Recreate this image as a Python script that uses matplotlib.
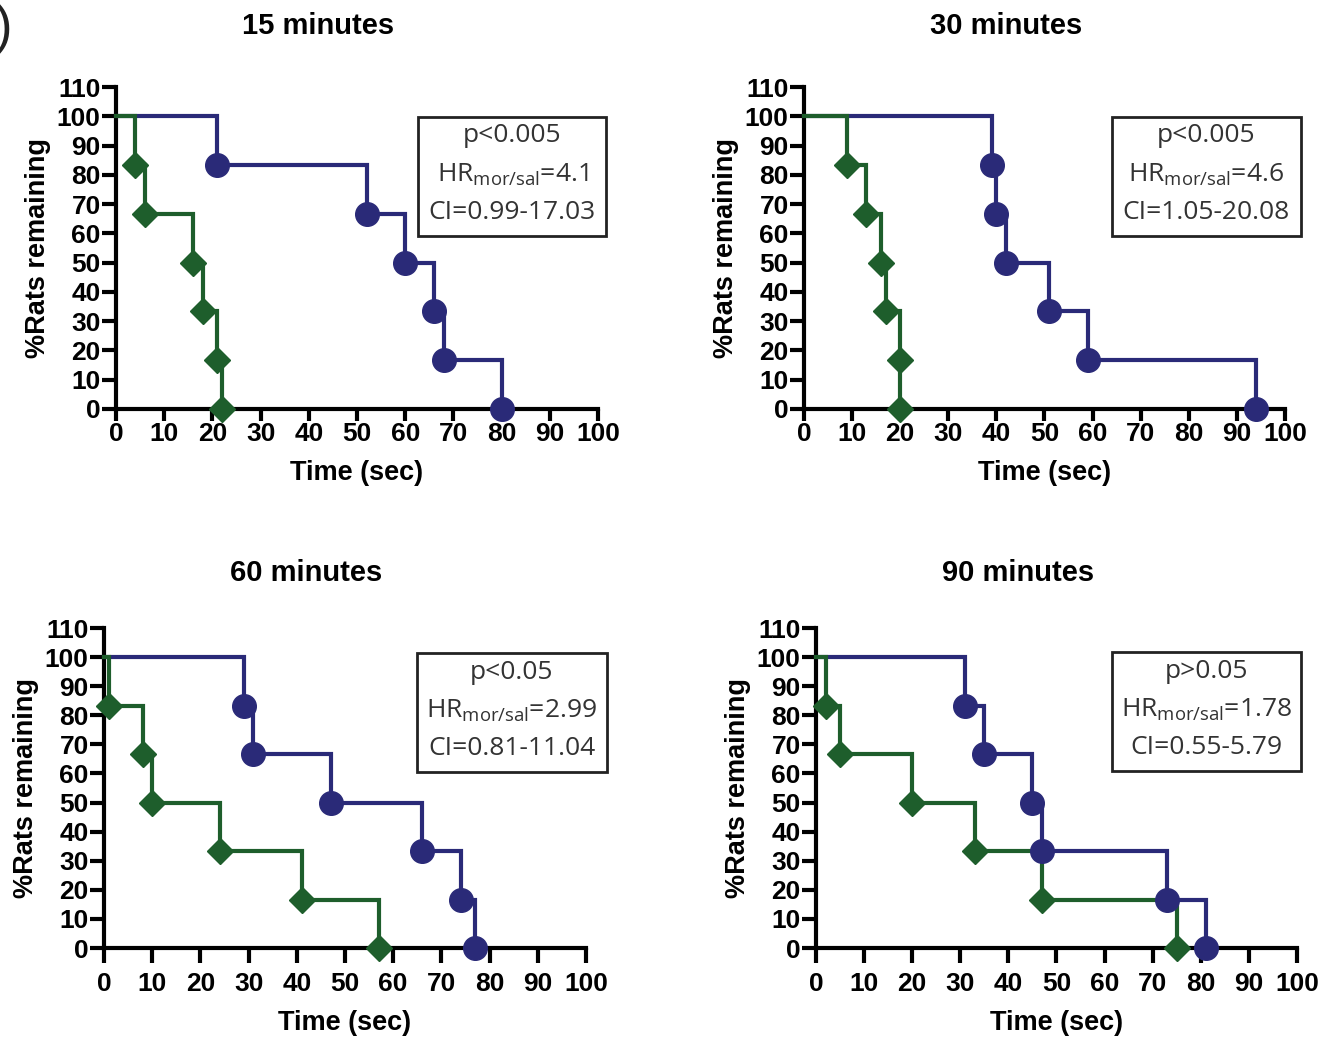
import matplotlib.pyplot as plt
from matplotlib.patches import Rectangle

plt.rcParams['font.family'] = ['Liberation Sans Narrow', 'Liberation Sans', 'DejaVu Sans']
plt.rcParams['mathtext.fontset'] = 'custom'
plt.rcParams['mathtext.rm'] = 'Open Sans'

blue = '#2a2a78'
green = '#1e5e2c'

# event times (sec); each event drops one of six rats (100 -> 83.3 -> ... -> 0)
titles = ['15 minutes', '30 minutes', '60 minutes', '90 minutes']
sal_times = [
    [21, 52, 60, 66, 68, 80],
    [39, 40, 42, 51, 59, 94],
    [29, 31, 47, 66, 74, 77],
    [31, 35, 45, 47, 73, 81],
]
mor_times = [
    [4, 6, 16, 18, 21, 22],
    [9, 13, 16, 17, 20, 20],
    [1, 8, 10, 24, 41, 57],
    [2, 5, 20, 33, 47, 75],
]
p_text = ['p<0.005', 'p<0.005', 'p<0.05', 'p>0.05']
hr_text = ['4.1', '4.6', '2.99', '1.78']
ci_text = ['0.99-17.03', '1.05-20.08', '0.81-11.04', '0.55-5.79']

# axes rectangles in figure fraction
positions = [
    [0.0878, 0.6056, 0.3649, 0.3105],
    [0.6086, 0.6056, 0.3641, 0.3105],
    [0.0787, 0.0858, 0.3649, 0.3086],
    [0.6177, 0.0858, 0.3641, 0.3086],
]
# stats box corners in data units: x0, x1, y0, y1
boxes = [
    [62.7, 101.7, 59.1, 99.8],
    [64.0, 103.3, 59.1, 99.8],
    [64.9, 104.3, 60.4, 101.3],
    [61.5, 100.9, 60.9, 101.6],
]
title_pads = [38, 38, 34, 34]
xtick_len = [8.5, 8.5, 11, 11]
xtick_pad = [1, 1, 6, 6]


def survival(times, n=6):
    xs, ys = [0], [100.0]
    level = 100.0
    for t in times:
        xs.append(t)
        ys.append(level)
        level = max(level - 100.0 / n, 0)
        xs.append(t)
        ys.append(level)
    return xs, ys


def marker_levels(times, n=6):
    return [100.0 - 100.0 * (i + 1) / n for i in range(len(times))]


fig = plt.figure(figsize=(13.21, 10.37), dpi=100)

for i in range(4):
    ax = fig.add_axes(positions[i])
    for times, col, mk, ms in [(sal_times[i], blue, 'o', 17), (mor_times[i], green, 'D', 13)]:
        xs, ys = survival(times)
        ax.plot(xs, ys, color=col, lw=3, solid_joinstyle='miter', clip_on=False, zorder=3)
        ax.plot(times, marker_levels(times), ls='none', marker=mk, ms=ms, color=col,
                clip_on=False, zorder=4)

    ax.set_xlim(0, 100)
    ax.set_ylim(0, 110)
    ax.set_xticks(range(0, 101, 10))
    ax.set_yticks(range(0, 111, 10))
    for s in ['top', 'right']:
        ax.spines[s].set_visible(False)
    for s in ['left', 'bottom']:
        ax.spines[s].set_linewidth(3)
    ax.tick_params(width=3, labelsize=19)
    ax.tick_params(axis='y', length=10, pad=1)
    ax.tick_params(axis='x', length=xtick_len[i], pad=xtick_pad[i])
    for lab in ax.get_xticklabels() + ax.get_yticklabels():
        lab.set_fontweight('bold')
    ax.set_xlabel('Time (sec)', fontsize=19.5, fontweight='bold', labelpad=10)
    ax.set_ylabel('%Rats remaining', fontsize=19.5, fontweight='bold', labelpad=4)
    ax.set_title(titles[i], fontsize=21, fontweight='bold', pad=title_pads[i], x=0.42)

    # stats box
    x0, x1, y0, y1 = boxes[i]
    ax.add_patch(Rectangle((x0, y0), x1 - x0, y1 - y0, fill=False, ec='#222222', lw=2,
                           clip_on=False, zorder=5))
    xc = (x0 + x1) / 2
    h = y1 - y0
    tk = dict(ha='center', va='center', fontsize=19, color='#333333',
              family=['Open Sans', 'DejaVu Sans'], zorder=6)
    ax.text(xc, y1 - 0.16 * h, p_text[i], **tk)
    ax.text(xc, y1 - 0.485 * h, r'HR$_{\mathrm{mor/sal}}$=' + hr_text[i], **tk)
    ax.text(xc, y1 - 0.80 * h, 'CI=' + ci_text[i], **tk)

fig.text(-0.004, 0.972, ')', fontsize=38, va='center', ha='left', color='#222222')

fig.savefig('out.png', dpi=100)
